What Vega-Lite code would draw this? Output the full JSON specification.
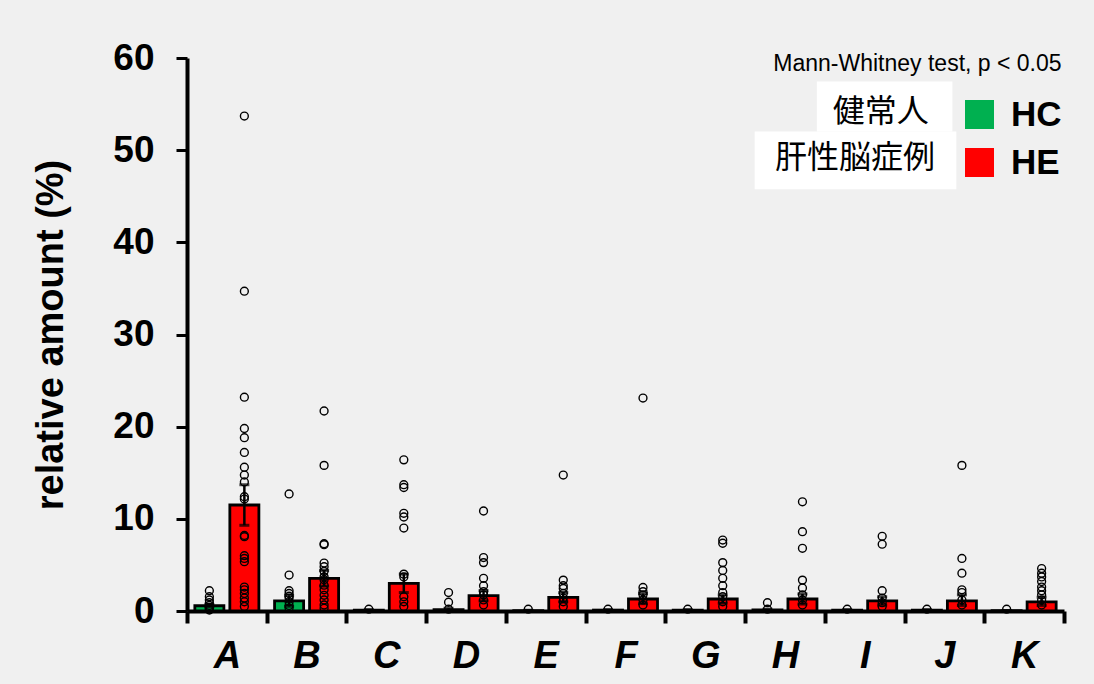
{
  "$schema": "https://vega.github.io/schema/vega-lite/v6.json",
  "width": 877,
  "height": 553,
  "autosize": {"type": "none"},
  "padding": {"left": 187, "top": 58, "right": 30, "bottom": 73},
  "background": "#f0f0f0",
  "config": {
    "view": {"stroke": null},
    "font": "Liberation Sans"
  },
  "datasets": {
    "summary": [
      {"cat": "A", "group": "HC", "mean": 0.57, "lo": 0.45, "hi": 0.7},
      {"cat": "A", "group": "HE", "mean": 11.5, "lo": 9.3, "hi": 13.7},
      {"cat": "B", "group": "HC", "mean": 1.1, "lo": 0.5, "hi": 1.7},
      {"cat": "B", "group": "HE", "mean": 3.55, "lo": 2.7, "hi": 4.4},
      {"cat": "C", "group": "HC", "mean": 0.1, "lo": 0.05, "hi": 0.15},
      {"cat": "C", "group": "HE", "mean": 3.0, "lo": 2.0, "hi": 4.0},
      {"cat": "D", "group": "HC", "mean": 0.15, "lo": 0.05, "hi": 0.3},
      {"cat": "D", "group": "HE", "mean": 1.66, "lo": 1.1, "hi": 2.2},
      {"cat": "E", "group": "HC", "mean": 0.05, "lo": 0.02, "hi": 0.08},
      {"cat": "E", "group": "HE", "mean": 1.48, "lo": 1.0, "hi": 2.0},
      {"cat": "F", "group": "HC", "mean": 0.1, "lo": 0.05, "hi": 0.15},
      {"cat": "F", "group": "HE", "mean": 1.3, "lo": 0.8, "hi": 1.9},
      {"cat": "G", "group": "HC", "mean": 0.1, "lo": 0.05, "hi": 0.15},
      {"cat": "G", "group": "HE", "mean": 1.3, "lo": 0.85, "hi": 1.75},
      {"cat": "H", "group": "HC", "mean": 0.12, "lo": 0.05, "hi": 0.2},
      {"cat": "H", "group": "HE", "mean": 1.3, "lo": 0.75, "hi": 1.85},
      {"cat": "I", "group": "HC", "mean": 0.1, "lo": 0.05, "hi": 0.15},
      {"cat": "I", "group": "HE", "mean": 1.1, "lo": 0.65, "hi": 1.55},
      {"cat": "J", "group": "HC", "mean": 0.1, "lo": 0.05, "hi": 0.15},
      {"cat": "J", "group": "HE", "mean": 1.1, "lo": 0.6, "hi": 1.75},
      {"cat": "K", "group": "HC", "mean": 0.03, "lo": 0.01, "hi": 0.05},
      {"cat": "K", "group": "HE", "mean": 1.0, "lo": 0.6, "hi": 1.5}
    ],
    "points": [
      {"cat": "A", "group": "HC", "v": 2.2}, {"cat": "A", "group": "HC", "v": 1.55}, {"cat": "A", "group": "HC", "v": 1.2}, {"cat": "A", "group": "HC", "v": 0.9}, {"cat": "A", "group": "HC", "v": 0.6}, {"cat": "A", "group": "HC", "v": 0.4}, {"cat": "A", "group": "HC", "v": 0.3}, {"cat": "A", "group": "HC", "v": 0.2}, {"cat": "A", "group": "HC", "v": 0.1},
      {"cat": "B", "group": "HC", "v": 12.7}, {"cat": "B", "group": "HC", "v": 3.9}, {"cat": "B", "group": "HC", "v": 2.2}, {"cat": "B", "group": "HC", "v": 1.9}, {"cat": "B", "group": "HC", "v": 1.6}, {"cat": "B", "group": "HC", "v": 1.4}, {"cat": "B", "group": "HC", "v": 1.0}, {"cat": "B", "group": "HC", "v": 0.6}, {"cat": "B", "group": "HC", "v": 0.3},
      {"cat": "C", "group": "HC", "v": 0.2},
      {"cat": "D", "group": "HC", "v": 2.0}, {"cat": "D", "group": "HC", "v": 0.95}, {"cat": "D", "group": "HC", "v": 0.2},
      {"cat": "E", "group": "HC", "v": 0.2},
      {"cat": "F", "group": "HC", "v": 0.2},
      {"cat": "G", "group": "HC", "v": 0.2},
      {"cat": "H", "group": "HC", "v": 0.9}, {"cat": "H", "group": "HC", "v": 0.2},
      {"cat": "I", "group": "HC", "v": 0.2},
      {"cat": "J", "group": "HC", "v": 0.2},
      {"cat": "K", "group": "HC", "v": 0.2},
      {"cat": "A", "group": "HE", "v": 53.7}, {"cat": "A", "group": "HE", "v": 34.7}, {"cat": "A", "group": "HE", "v": 23.2}, {"cat": "A", "group": "HE", "v": 19.8}, {"cat": "A", "group": "HE", "v": 18.8}, {"cat": "A", "group": "HE", "v": 17.2}, {"cat": "A", "group": "HE", "v": 15.6}, {"cat": "A", "group": "HE", "v": 14.75}, {"cat": "A", "group": "HE", "v": 14.0}, {"cat": "A", "group": "HE", "v": 12.4}, {"cat": "A", "group": "HE", "v": 12.15}, {"cat": "A", "group": "HE", "v": 8.2}, {"cat": "A", "group": "HE", "v": 8.06}, {"cat": "A", "group": "HE", "v": 6.0}, {"cat": "A", "group": "HE", "v": 5.7}, {"cat": "A", "group": "HE", "v": 5.35}, {"cat": "A", "group": "HE", "v": 2.6}, {"cat": "A", "group": "HE", "v": 2.3}, {"cat": "A", "group": "HE", "v": 1.9}, {"cat": "A", "group": "HE", "v": 1.4}, {"cat": "A", "group": "HE", "v": 1.0}, {"cat": "A", "group": "HE", "v": 0.5},
      {"cat": "B", "group": "HE", "v": 21.7}, {"cat": "B", "group": "HE", "v": 15.8}, {"cat": "B", "group": "HE", "v": 7.3}, {"cat": "B", "group": "HE", "v": 7.2}, {"cat": "B", "group": "HE", "v": 5.2}, {"cat": "B", "group": "HE", "v": 4.8}, {"cat": "B", "group": "HE", "v": 4.3}, {"cat": "B", "group": "HE", "v": 3.7}, {"cat": "B", "group": "HE", "v": 3.4}, {"cat": "B", "group": "HE", "v": 2.8}, {"cat": "B", "group": "HE", "v": 2.3}, {"cat": "B", "group": "HE", "v": 1.7}, {"cat": "B", "group": "HE", "v": 1.2}, {"cat": "B", "group": "HE", "v": 0.65}, {"cat": "B", "group": "HE", "v": 0.3},
      {"cat": "C", "group": "HE", "v": 16.4}, {"cat": "C", "group": "HE", "v": 13.7}, {"cat": "C", "group": "HE", "v": 13.4}, {"cat": "C", "group": "HE", "v": 10.6}, {"cat": "C", "group": "HE", "v": 10.2}, {"cat": "C", "group": "HE", "v": 9.0}, {"cat": "C", "group": "HE", "v": 4.0}, {"cat": "C", "group": "HE", "v": 3.7}, {"cat": "C", "group": "HE", "v": 1.55}, {"cat": "C", "group": "HE", "v": 1.0}, {"cat": "C", "group": "HE", "v": 0.5},
      {"cat": "D", "group": "HE", "v": 10.85}, {"cat": "D", "group": "HE", "v": 5.8}, {"cat": "D", "group": "HE", "v": 5.25}, {"cat": "D", "group": "HE", "v": 3.55}, {"cat": "D", "group": "HE", "v": 2.75}, {"cat": "D", "group": "HE", "v": 2.1}, {"cat": "D", "group": "HE", "v": 1.75}, {"cat": "D", "group": "HE", "v": 1.2}, {"cat": "D", "group": "HE", "v": 0.65},
      {"cat": "E", "group": "HE", "v": 14.75}, {"cat": "E", "group": "HE", "v": 3.35}, {"cat": "E", "group": "HE", "v": 2.75}, {"cat": "E", "group": "HE", "v": 2.45}, {"cat": "E", "group": "HE", "v": 1.9}, {"cat": "E", "group": "HE", "v": 1.4}, {"cat": "E", "group": "HE", "v": 1.0}, {"cat": "E", "group": "HE", "v": 0.5},
      {"cat": "F", "group": "HE", "v": 23.1}, {"cat": "F", "group": "HE", "v": 2.55}, {"cat": "F", "group": "HE", "v": 2.1}, {"cat": "F", "group": "HE", "v": 1.75}, {"cat": "F", "group": "HE", "v": 1.2}, {"cat": "F", "group": "HE", "v": 0.65},
      {"cat": "G", "group": "HE", "v": 7.7}, {"cat": "G", "group": "HE", "v": 7.35}, {"cat": "G", "group": "HE", "v": 5.25}, {"cat": "G", "group": "HE", "v": 4.4}, {"cat": "G", "group": "HE", "v": 3.55}, {"cat": "G", "group": "HE", "v": 2.75}, {"cat": "G", "group": "HE", "v": 2.0}, {"cat": "G", "group": "HE", "v": 1.55}, {"cat": "G", "group": "HE", "v": 1.0}, {"cat": "G", "group": "HE", "v": 0.5},
      {"cat": "H", "group": "HE", "v": 11.85}, {"cat": "H", "group": "HE", "v": 8.6}, {"cat": "H", "group": "HE", "v": 6.8}, {"cat": "H", "group": "HE", "v": 3.35}, {"cat": "H", "group": "HE", "v": 2.5}, {"cat": "H", "group": "HE", "v": 1.75}, {"cat": "H", "group": "HE", "v": 1.2}, {"cat": "H", "group": "HE", "v": 0.65},
      {"cat": "I", "group": "HE", "v": 8.1}, {"cat": "I", "group": "HE", "v": 7.25}, {"cat": "I", "group": "HE", "v": 2.2}, {"cat": "I", "group": "HE", "v": 1.4}, {"cat": "I", "group": "HE", "v": 0.9}, {"cat": "I", "group": "HE", "v": 0.5},
      {"cat": "J", "group": "HE", "v": 15.8}, {"cat": "J", "group": "HE", "v": 5.7}, {"cat": "J", "group": "HE", "v": 4.1}, {"cat": "J", "group": "HE", "v": 2.3}, {"cat": "J", "group": "HE", "v": 2.0}, {"cat": "J", "group": "HE", "v": 1.2}, {"cat": "J", "group": "HE", "v": 0.65},
      {"cat": "K", "group": "HE", "v": 4.6}, {"cat": "K", "group": "HE", "v": 4.1}, {"cat": "K", "group": "HE", "v": 3.7}, {"cat": "K", "group": "HE", "v": 3.2}, {"cat": "K", "group": "HE", "v": 2.6}, {"cat": "K", "group": "HE", "v": 2.2}, {"cat": "K", "group": "HE", "v": 1.75}, {"cat": "K", "group": "HE", "v": 1.2}, {"cat": "K", "group": "HE", "v": 0.65}
    ]
  },
  "layer": [
    {
      "encoding": {
        "x": {
          "field": "cat", "type": "nominal",
          "scale": {"paddingInner": 0, "paddingOuter": 0},
          "axis": {
            "title": null, "labelAngle": 0, "tickBand": "extent",
            "domainColor": "black", "domainWidth": 4, "tickColor": "black", "tickWidth": 4, "tickSize": 12,
            "labelFont": "Liberation Sans", "labelFontSize": 38, "labelFontWeight": "bold", "labelFontStyle": "italic",
            "labelColor": "black", "labelPadding": 14
          }
        },
        "xOffset": {"field": "group", "type": "nominal", "scale": {"domain": ["HC", "HE"], "paddingInner": 0.17, "paddingOuter": 0.224}},
        "y": {
          "type": "quantitative",
          "scale": {"domain": [0, 60], "nice": false},
          "axis": {
            "title": "relative amount (%)", "values": [0, 10, 20, 30, 40, 50, 60], "grid": false,
            "domainColor": "black", "domainWidth": 4, "tickColor": "black", "tickWidth": 3, "tickSize": 11,
            "labelFont": "Liberation Sans", "labelFontSize": 37, "labelFontWeight": "bold", "labelColor": "black", "labelPadding": 22,
            "titleFont": "Liberation Sans", "titleFontSize": 38, "titleFontWeight": "bold", "titleColor": "black", "titlePadding": 42
          }
        }
      },
      "layer": [
        {
          "data": {"name": "summary"},
          "mark": {"type": "bar", "stroke": "black", "strokeWidth": 2.8},
          "encoding": {
            "y": {"field": "mean", "type": "quantitative"},
            "color": {
              "field": "group", "type": "nominal",
              "scale": {"domain": ["HC", "HE"], "range": ["#00b050", "#ff0000"]},
              "legend": {
                "title": null, "orient": "none", "legendX": 775, "legendY": 39,
                "symbolType": "square", "symbolSize": 841, "symbolStrokeWidth": 0,
                "labelFont": "Liberation Sans", "labelFontSize": 35, "labelFontWeight": "bold", "labelColor": "black",
                "labelOffset": 14, "rowPadding": 12, "padding": 0
              }
            }
          }
        },
        {
          "data": {"name": "summary"},
          "mark": {"type": "rule", "color": "black", "strokeWidth": 2.5},
          "encoding": {
            "y": {"field": "lo", "type": "quantitative"},
            "y2": {"field": "hi"}
          }
        },
        {
          "data": {"name": "summary"},
          "mark": {"type": "tick", "color": "black", "thickness": 3, "size": 10, "orient": "horizontal"},
          "encoding": {"y": {"field": "hi", "type": "quantitative"}}
        },
        {
          "data": {"name": "summary"},
          "mark": {"type": "tick", "color": "black", "thickness": 3, "size": 10, "orient": "horizontal"},
          "encoding": {"y": {"field": "lo", "type": "quantitative"}}
        },
        {
          "data": {"name": "points"},
          "mark": {"type": "point", "shape": "circle", "filled": false, "stroke": "black", "strokeWidth": 1.4, "size": 62, "opacity": 1},
          "encoding": {"y": {"field": "v", "type": "quantitative"}}
        }
      ]
    },
    {
      "data": {"values": [{}]},
      "encoding": {
        "x": {"type": "quantitative", "scale": {"domain": [0, 11], "nice": false, "zero": false}, "axis": null}
      },
      "layer": [
        {
          "mark": {"type": "rect", "fill": "white"},
          "encoding": {"x": {"datum": 7.9, "type": "quantitative"}, "x2": {"datum": 9.6}, "y": {"datum": 57.45, "type": "quantitative"}, "y2": {"datum": 52.03}}
        },
        {
          "mark": {"type": "rect", "fill": "white"},
          "encoding": {"x": {"datum": 7.12, "type": "quantitative"}, "x2": {"datum": 9.65}, "y": {"datum": 52.03, "type": "quantitative"}, "y2": {"datum": 45.75}}
        },
        {
          "mark": {"type": "text", "text": "健常人", "font": "Noto Sans CJK JP", "fontSize": 32, "color": "black", "align": "center", "baseline": "middle"},
          "encoding": {"x": {"datum": 8.7, "type": "quantitative"}, "y": {"datum": 54.1, "type": "quantitative"}}
        },
        {
          "mark": {"type": "text", "text": "肝性脳症例", "font": "Noto Sans CJK JP", "fontSize": 32, "color": "black", "align": "center", "baseline": "middle"},
          "encoding": {"x": {"datum": 8.38, "type": "quantitative"}, "y": {"datum": 49.15, "type": "quantitative"}}
        },
        {
          "mark": {"type": "text", "text": "Mann-Whitney test, p < 0.05", "font": "Liberation Sans", "fontSize": 23, "color": "black", "align": "right", "baseline": "middle"},
          "encoding": {"x": {"datum": 10.97, "type": "quantitative"}, "y": {"datum": 59.4, "type": "quantitative"}}
        }
      ]
    }
  ],
  "resolve": {"scale": {"x": "independent"}, "axis": {"x": "independent"}}
}
